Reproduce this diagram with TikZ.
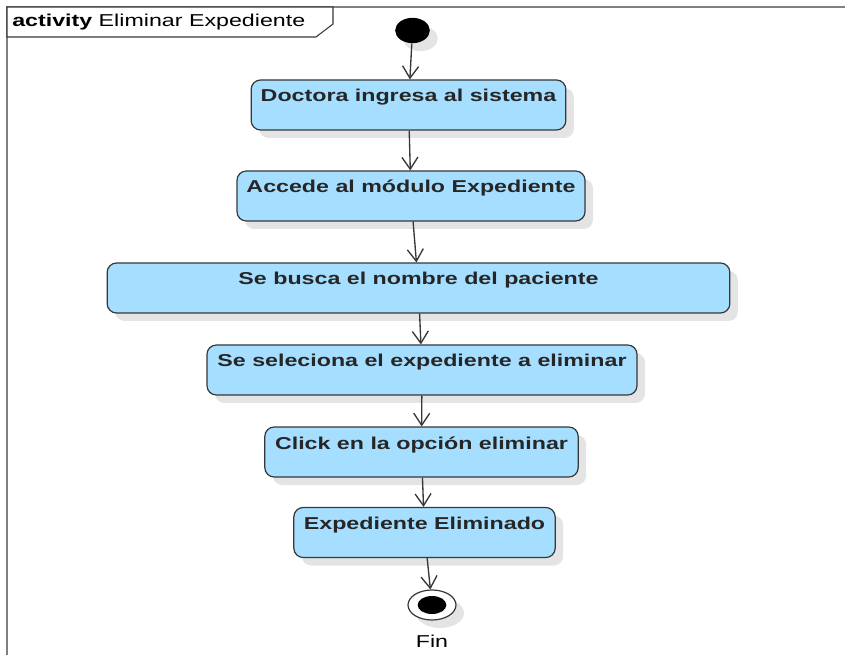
\documentclass[tikz,border=0pt]{standalone}
\usepackage{fontspec}
\setmainfont{Liberation Sans}[FakeStretch=1.35]
\usepackage{tikz}
\usetikzlibrary{positioning,arrows.meta,shapes.geometric,shadows}

\definecolor{actblue}{RGB}{166,222,255}
\definecolor{edgegray}{RGB}{55,55,55}
\newcommand{\diafont}{\fontsize{12.9}{15}\selectfont}

\begin{document}
\begin{tikzpicture}[
    x=0.75pt, y=-0.75pt,
    font=\diafont,
    >={Straight Barb[length=9pt,width=12pt]},
    flow/.style={->, edgegray, line width=1pt},
    soft shadow/.style={drop shadow={shadow xshift=6pt, shadow yshift=-6pt, fill=black!35, opacity=0.3}},
    action/.style={rectangle, rounded corners=7pt, draw=edgegray, line width=0.9pt, fill=actblue,
                   font=\diafont\bfseries, text=black!85, inner sep=0pt, text height=16.5pt, text depth=21pt, soft shadow},
    init node/.style={ellipse, fill=black, minimum width=26pt, minimum height=19pt, inner sep=0pt, soft shadow},
    final node/.style={ellipse, draw=edgegray, fill=white, line width=0.9pt, minimum width=36pt,
                       minimum height=22.5pt, inner sep=0pt, soft shadow},
    frame line/.style={draw=black!50, line width=1.6pt},
    frame tab/.style={draw=edgegray, fill=white, line width=0.8pt}
]
    \useasboundingbox (0,0) rectangle (845,655);

    % diagram frame and its name tab
    \draw[frame line] (845,7) -- (7,7) -- (7,655);
    \draw[frame tab] (7,7) -- (333,7) -- (333,24) -- (316,37) -- (7,37) -- cycle;
    \node[anchor=west, inner sep=0pt] (title) at (12,22) {\textbf{activity} Eliminar Expediente};

    % start
    \node[init node] (init) at (412.5,30.5) {};

    % actions
    \foreach \i/\x/\y/\w/\lab in {1/408.5/105/236/Doctora ingresa al sistema,
                                  2/411/196/261/Accede al módulo Expediente,
                                  3/418.5/288/467/Se busca el nombre del paciente,
                                  4/422/370/322.5/Se seleciona el expediente a eliminar,
                                  5/421.5/452/235/Click en la opción eliminar,
                                  6/424.5/532.5/196/Expediente Eliminado}
      \node[action, minimum width=\w pt] (n\i) at (\x,\y) {\lab};

    % end
    \node[final node] (end) at (432,605) {};
    \node[ellipse, fill=black, minimum width=21.5pt, minimum height=13.5pt, inner sep=0pt] (end-dot) at (end) {};
    \node[below=7pt of end] (fin) {Fin};

    \foreach \a/\b in {init/n1, n1/n2, n2/n3, n3/n4, n4/n5, n5/n6, n6/end}
      \draw[flow] (\a) -- (\b);
\end{tikzpicture}
\end{document}
